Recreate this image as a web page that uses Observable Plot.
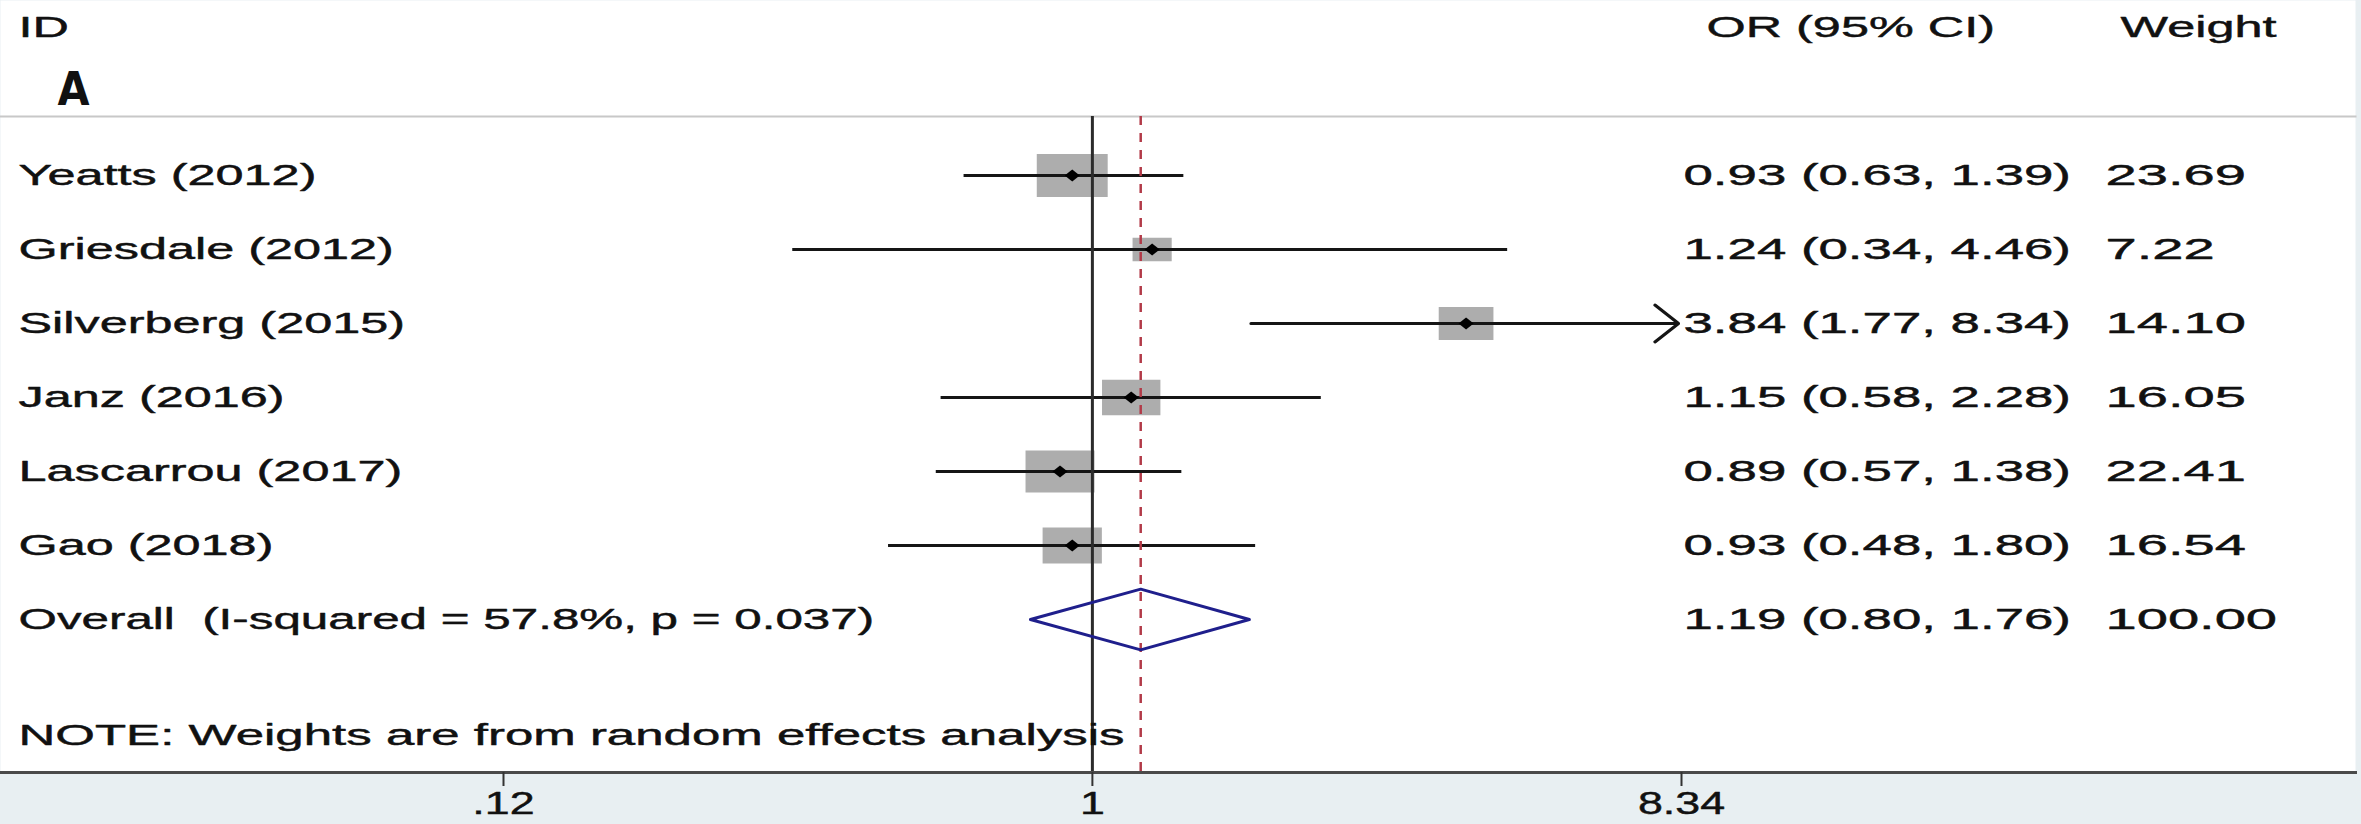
<!DOCTYPE html>
<html>
<head>
<meta charset="utf-8">
<script src="https://cdn.jsdelivr.net/npm/d3@7"></script>
<script src="https://cdn.jsdelivr.net/npm/@observablehq/plot@0.6"></script>
<style>
  html, body { margin: 0; padding: 0; background: #e8eff2; }
  svg text { white-space: pre; }
</style>
</head>
<body>
<div id="chart"></div>
<script>
// ---- data ----
const studies = ["Yeatts (2012)", "Griesdale (2012)", "Silverberg (2015)", "Janz (2016)", "Lascarrou (2017)", "Gao (2018)"];
const orValues = [0.93, 1.24, 3.84, 1.15, 0.89, 0.93];
const lowerCI = [0.63, 0.34, 1.77, 0.58, 0.57, 0.48];
const upperCI = [1.39, 4.46, 8.34, 2.28, 1.38, 1.80];
const weights = [23.69, 7.22, 14.10, 16.05, 22.41, 16.54];
const overallLabel = "Overall  (I-squared = 57.8%, p = 0.037)";
const overallOR = 1.19, overallLower = 0.80, overallUpper = 1.76, overallWeight = 100.00;
const xTicks = [0.12, 1, 8.34];
const xTickLabels = [".12", "1", "8.34"];
const headers = {id: "ID", or: "OR (95% CI)", weight: "Weight"};
const panelLabel = "A";
const noteText = "NOTE: Weights are from random effects analysis";

// ---- table ----
const rows = studies.map((s, i) => ({
  row: i + 1, label: s, or: orValues[i], lo: lowerCI[i], hi: upperCI[i], w: weights[i],
  ci: `${orValues[i].toFixed(2)} (${lowerCI[i].toFixed(2)}, ${upperCI[i].toFixed(2)})`,
  wt: weights[i].toFixed(2)
}));
const overall = {
  row: studies.length + 1, label: overallLabel, or: overallOR, lo: overallLower, hi: overallUpper,
  ci: `${overallOR.toFixed(2)} (${overallLower.toFixed(2)}, ${overallUpper.toFixed(2)})`,
  wt: overallWeight.toFixed(2)
};
const textRows = [...rows, overall];
const xMax = xTicks[xTicks.length - 1];
const clipped = rows.filter(d => d.hi >= xMax);
const normal = rows.filter(d => d.hi < xMax);
const halfH = 0.41;
const diamondPts = [
  {x: overall.lo, y: overall.row}, {x: overall.or, y: overall.row - halfH},
  {x: overall.hi, y: overall.row}, {x: overall.or, y: overall.row + halfH},
  {x: overall.lo, y: overall.row}
];
const tickData = xTicks.map((v, i) => ({v, label: xTickLabels[i]}));

// ---- custom symbols (horizontally stretched like the source) ----
const ASPECT = 1.65;
const boxSymbol = {draw(ctx, size) { const w = Math.sqrt(size * ASPECT), h = Math.sqrt(size / ASPECT); ctx.rect(-w / 2, -h / 2, w, h); }};
const markSymbol = {draw(ctx, size) { const b = Math.sqrt(size / (2 * 1.25)), a = 1.25 * b; ctx.moveTo(-a, 0); ctx.lineTo(0, -b); ctx.lineTo(a, 0); ctx.lineTo(0, b); ctx.closePath(); }};

const W = 2361, H = 824;
const mTop = 116, mBottom = 52, mRight = 6;
const fontFamily = "'Liberation Sans', Arial, Helvetica, sans-serif";
const ink = "#111";
const txt = {fill: ink, stroke: ink, strokeWidth: 0.45};

const chart = Plot.plot({
  width: W, height: H,
  marginTop: mTop, marginBottom: mBottom, marginLeft: 0, marginRight: mRight,
  style: {background: "#e8eff2", fontFamily, fontSize: "30px", color: ink},
  x: {type: "log", domain: [xTicks[0], xMax], range: [503, 1681]},
  y: {domain: [1, 7], range: [175, 619], axis: null},
  r: {type: "sqrt", domain: [0, 100], range: [0, 64]},
  marks: [
    Plot.frame({fill: "white", stroke: null, insetTop: -mTop}),
    Plot.frame({anchor: "top", stroke: "#c8c8c8", strokeWidth: 2}),
    // weight boxes
    Plot.dot(rows, {x: "or", y: "row", r: "w", symbol: boxSymbol, fill: "#adadad", stroke: null}),
    // confidence intervals
    Plot.ruleY(normal, {x1: "lo", x2: "hi", y: "row", stroke: "#151515", strokeWidth: 3.2}),
    Plot.arrow(clipped, {x1: "lo", x2: () => xMax, y1: "row", y2: "row", stroke: "#151515", strokeWidth: 3.2, headLength: 14, headAngle: 76, insetEnd: 3}),
    // null line and overall line
    Plot.ruleX([1], {stroke: "#2b2b2b", strokeWidth: 3}),
    Plot.ruleX([overall], {x: "or", stroke: "#b23a48", strokeWidth: 2.5, strokeDasharray: "9,8"}),
    // point markers
    Plot.dot(rows, {x: "or", y: "row", r: 5.4, symbol: markSymbol, fill: "#000", stroke: null}),
    // overall diamond
    Plot.line(diamondPts, {x: "x", y: "y", stroke: "#1f1f8c", strokeWidth: 3, curve: "linear"}),
    // axis: line, ticks, labels
    Plot.frame({anchor: "bottom", stroke: "#4a4a4a", strokeWidth: 3}),
    Plot.axisX({ticks: xTicks, tickFormat: () => "", tickSize: 14, stroke: "#333", strokeWidth: 2, label: null}),
    // text columns (order matters for the stretch factors below)
    Plot.text(textRows, {y: "row", text: "label", frameAnchor: "left", textAnchor: "start", dx: 18, ...txt}),
    Plot.text(textRows, {y: "row", text: "ci", frameAnchor: "left", textAnchor: "start", dx: 1683, ...txt}),
    Plot.text(textRows, {y: "row", text: "wt", frameAnchor: "left", textAnchor: "start", dx: 2105, ...txt}),
    // headers
    Plot.text([headers.id], {frameAnchor: "top-left", textAnchor: "start", lineAnchor: "middle", dx: 18, dy: 27 - mTop, ...txt}),
    Plot.text([headers.or], {frameAnchor: "top-left", textAnchor: "start", lineAnchor: "middle", dx: 1706, dy: 27 - mTop, ...txt}),
    Plot.text([headers.weight], {frameAnchor: "top-left", textAnchor: "start", lineAnchor: "middle", dx: 2120, dy: 27 - mTop, ...txt}),
    // note
    Plot.text([noteText], {frameAnchor: "bottom-left", textAnchor: "start", lineAnchor: "middle", dx: 18, dy: 735 - (H - mBottom), ...txt}),
    // tick labels
    Plot.text(tickData, {x: "v", text: "label", frameAnchor: "bottom", lineAnchor: "middle", dy: 31, fontSize: 32, ...txt}),
    // panel label (not stretched)
    Plot.text([panelLabel], {frameAnchor: "top-left", textAnchor: "start", lineAnchor: "middle", dx: 57, dy: 90 - mTop, fontSize: 46, fontWeight: "bold", fontFamily: "'Liberation Sans Narrow', 'DejaVu Sans Condensed', sans-serif", fill: ink})
  ]
});

// stretch text horizontally like the (resized) source graph
const stretch = [1.68, 1.76, 1.87, 1.68, 1.68, 1.68, 1.7, 1.4, 1.0];
d3.select(chart).selectAll("g[aria-label='text']").each(function (_, gi) {
  const s = stretch[gi] ?? 1;
  d3.select(this).selectAll("text").each(function () {
    const k = this.textContent === overallLabel ? 1.645 : s;
    const t = this.getAttribute("transform") || "";
    this.setAttribute("transform", t + ` scale(${k},1)`);
  });
});
document.getElementById("chart").appendChild(chart);
</script>
</body>
</html>
